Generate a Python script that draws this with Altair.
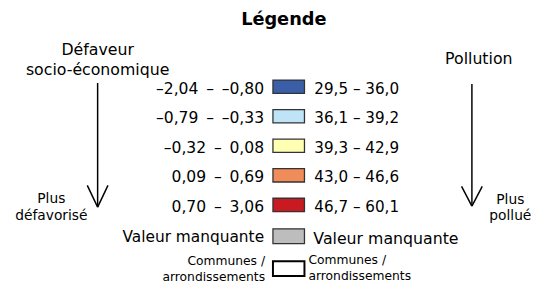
import altair as alt
import pandas as pd

# ---- content ----
title = "Légende"
left_heading = ["Défaveur", "socio-économique"]
right_heading = ["Pollution"]
SP = "\u2002"
deprivation_classes = [f"–2,04{SP}–{SP}–0,80", f"–0,79{SP}–{SP}–0,33", f"–0,32{SP}–{SP}0,08",
                       f"0,09{SP}–{SP}0,69", f"0,70{SP}–{SP}3,06"]
pollution_classes = ["29,5 – 36,0", "36,1 – 39,2", "39,3 – 42,9", "43,0 – 46,6", "46,7 – 60,1"]
class_colors = ["#3a5fa8", "#bfe4f8", "#ffffb3", "#f08c5a", "#c81a20"]
missing_label = "Valeur manquante"
missing_color = "#bdbdbd"
boundary_label = ["Communes /", "arrondissements"]
left_low = ["Plus", "défavorisé"]
right_low = ["Plus", "pollué"]

# ---- layout ----
W, H, M = 539, 289, 8
FONT = "DejaVu Sans"
SW_X0, SW_X1 = 277, 309
ROW0, STEP = 93, 30

X = lambda f="x": alt.X(f"{f}:Q", scale=alt.Scale(domain=[M, W], nice=False, zero=False), axis=None)
Y = lambda f="y": alt.Y(f"{f}:Q", scale=alt.Scale(domain=[H, M], nice=False, zero=False), axis=None)

# swatches
sw_rows = []
for i, c in enumerate(class_colors):
    b = ROW0 + STEP * i
    sw_rows.append(dict(x=SW_X0, x2=SW_X1, y=b - 14, y2=b - 0.5, fill=c))
sw_rows.append(dict(x=SW_X0, x2=SW_X1, y=230, y2=245, fill=missing_color))
swatches = alt.Chart(pd.DataFrame(sw_rows)).mark_rect(stroke="#333333", strokeWidth=1.3).encode(
    x=X(), x2="x2:Q", y=Y(), y2="y2:Q", fill=alt.Fill("fill:N", scale=None)
)
boundary = alt.Chart(pd.DataFrame([dict(x=SW_X0, x2=SW_X1, y=263, y2=278)])).mark_rect(
    fill="white", stroke="black", strokeWidth=2
).encode(x=X(), x2="x2:Q", y=Y(), y2="y2:Q")

# texts
texts = []
def add(t, x, y, align, size, weight="normal"):
    texts.append(dict(t=t, x=x, y=y, align=align, size=size, weight=weight))

for i, lab in enumerate(deprivation_classes):
    add(lab, 268, ROW0 + STEP * i, "right", 15.8)
for i, lab in enumerate(pollution_classes):
    add(lab, 319, ROW0 + STEP * i, "left", 15.4)
add(missing_label, 268, 243, "right", 15.6)
add(missing_label, 318, 245, "left", 16)
add(boundary_label[0], 269, 267, "right", 12.5)
add(boundary_label[1], 269, 283, "right", 12.5)
add(boundary_label[0], 313, 266, "left", 12.5)
add(boundary_label[1], 313, 282, "left", 12.5)
add(left_heading[0], 99, 54, "center", 16)
add(left_heading[1], 99, 74, "center", 16)
add(right_heading[0], 486, 63, "center", 16)
add(left_low[0], 52, 204, "center", 14)
add(left_low[1], 52, 221, "center", 14)
add(right_low[0], 518, 205, "center", 14)
add(right_low[1], 518, 221, "center", 14)

tdf = pd.DataFrame(texts)
text_layers = []
for (align, size, weight), g in tdf.groupby(["align", "size", "weight"]):
    text_layers.append(
        alt.Chart(g).mark_text(align=align, baseline="alphabetic", fontSize=float(size),
                               font=FONT, fontWeight=weight, color="black")
        .encode(x=X(), y=Y(), text="t:N")
    )
title_layer = alt.Chart(pd.DataFrame([dict(t=title, x=288, y=23)])).mark_text(
    align="center", baseline="alphabetic", fontSize=18, font=FONT, fontWeight="bold", color="black"
).encode(x=X(), y=Y(), text="t:N")

# arrows
segs = []
for (ax, top, tip, half, headtop) in [(99, 82, 208, 10.5, 186), (479, 83, 207, 10.5, 187)]:
    segs.append(dict(x=ax, y=top, x2=ax, y2=tip))
    segs.append(dict(x=ax - half, y=headtop, x2=ax, y2=tip))
    segs.append(dict(x=ax + half, y=headtop, x2=ax, y2=tip))
arrows = alt.Chart(pd.DataFrame(segs)).mark_rule(color="black", strokeWidth=1.5).encode(
    x=X(), y=Y(), x2="x2:Q", y2="y2:Q"
)

chart = alt.layer(swatches, boundary, arrows, title_layer, *text_layers).properties(
    width=W - M, height=H - M, padding=0, autosize=alt.AutoSizeParams(type="none"),
    background="white"
).configure_view(stroke=None)

chart.save("out.html", embed_options={"renderer": "svg", "actions": False})
